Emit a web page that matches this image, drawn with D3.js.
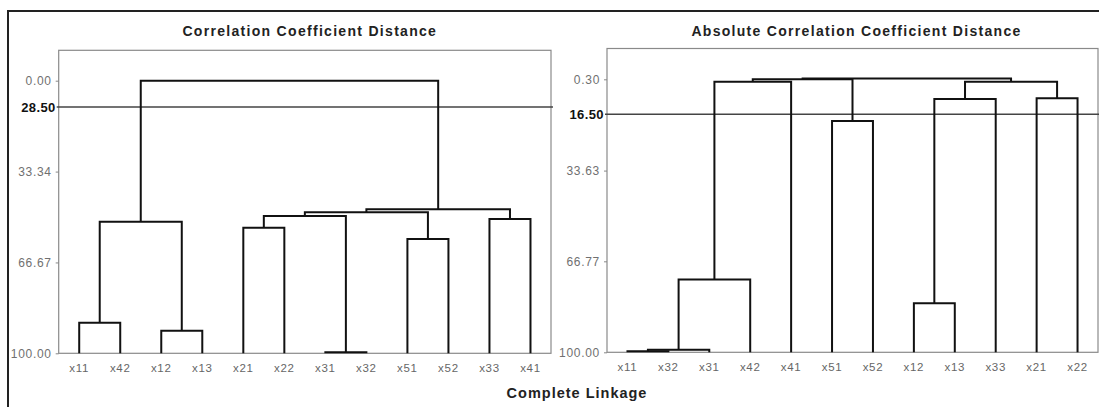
<!DOCTYPE html>
<html>
<head>
<meta charset="utf-8">
<script src="https://cdn.jsdelivr.net/npm/d3@7"></script>
<style>
  html, body { margin: 0; padding: 0; background: #fff; }
  svg { display: block; }
  text { font-family: "Liberation Sans", Arial, sans-serif; }
</style>
</head>
<body>
<svg id="chart" width="1099" height="407"></svg>
<script>
// ---------- DATA ----------
const overallTitle = "Complete Linkage";

const leftTitle = "Correlation Coefficient Distance";
const leftLeaves = ["x11","x42","x12","x13","x21","x22","x31","x32","x51","x52","x33","x41"];
// merges: [childA, childB, level]; children are leaf names or "m<i>"
const leftMerges = [
  ["x31","x32", 99.6],
  ["x11","x42", 88.8],
  ["x12","x13", 91.7],
  ["x51","x52", 58.1],
  ["x21","x22", 53.9],
  ["m1","m2",   51.7],
  ["x33","x41", 50.7],
  ["m4","m0",   49.6],
  ["m7","m3",   48.3],
  ["m8","m6",   47.2],
  ["m5","m9",   0.0]
];
const leftTickValues = [0, 33.34, 66.67, 100];
const leftTickLabels = ["0.00", "33.34", "66.67", "100.00"];
const leftCutLevel = 9.65;
const leftCutLabel = "28.50";

const rightTitle = "Absolute Correlation Coefficient Distance";
const rightLeaves = ["x11","x32","x31","x42","x41","x51","x52","x12","x13","x33","x21","x22"];
const rightMerges = [
  ["x11","x32", 99.6],
  ["m0","x31",  99.05],
  ["x12","x13", 82.1],
  ["m1","x42",  73.4],
  ["x51","x52", 15.5],
  ["m2","x33",  7.5],
  ["x21","x22", 7.2],
  ["m3","x41",  1.2],
  ["m5","m6",   1.2],
  ["m7","m4",   0.3],
  ["m9","m8",   0.0]
];
const rightTickValues = [0.30, 33.63, 66.77, 100];
const rightTickLabels = ["0.30", "33.63", "66.77", "100.00"];
const rightCutLevel = 13.1;
const rightCutLabel = "16.50";

// ---------- DRAW ----------
const svg = d3.select("#chart");

// outer frame
svg.append("rect")
  .attr("x", 8).attr("y", 11)
  .attr("width", 1100).attr("height", 420)
  .attr("fill", "#fff")
  .attr("stroke", "#222").attr("stroke-width", 2);

function drawPanel(cfg) {
  const g = svg.append("g");
  const x = d3.scaleBand().domain(cfg.leaves).range([cfg.left, cfg.right]).padding(0);
  const y = d3.scaleLinear().domain([0, 100]).range([cfg.y0, cfg.y100]);

  // plot frame
  g.append("rect")
    .attr("x", cfg.left).attr("y", cfg.top)
    .attr("width", cfg.right - cfg.left).attr("height", y(100) - cfg.top)
    .attr("fill", "none").attr("stroke", "#8a8a8a").attr("stroke-width", 1.2);

  // title
  g.append("text")
    .attr("x", (cfg.left + cfg.right) / 2 + cfg.titleDx).attr("y", 36)
    .attr("text-anchor", "middle")
    .attr("font-size", 14).attr("font-weight", "bold")
    .attr("letter-spacing", 1.3)
    .attr("fill", "#222")
    .text(cfg.title);

  // y axis
  const axis = d3.axisLeft(y)
    .tickValues(cfg.tickValues)
    .tickFormat((d, i) => cfg.tickLabels[i])
    .tickSize(3).tickPadding(4);
  const ag = g.append("g").attr("transform", `translate(${cfg.left},0)`).call(axis);
  ag.select(".domain").remove();
  ag.selectAll(".tick line").attr("stroke", "#888");
  ag.selectAll(".tick text")
    .attr("font-family", "Liberation Sans, Arial, sans-serif")
    .attr("font-size", 12).attr("letter-spacing", 0.7)
    .attr("fill", "#707070");

  // cut line
  g.append("line")
    .attr("x1", cfg.left - 2).attr("x2", cfg.right + 2)
    .attr("y1", y(cfg.cutLevel)).attr("y2", y(cfg.cutLevel))
    .attr("stroke", "#444").attr("stroke-width", 1.5);
  g.append("text")
    .attr("x", cfg.left - 3).attr("y", y(cfg.cutLevel))
    .attr("dy", "0.36em")
    .attr("text-anchor", "end")
    .attr("font-size", 13).attr("font-weight", "bold")
    .attr("letter-spacing", 0.4)
    .attr("fill", "#111")
    .text(cfg.cutLabel);

  // leaf labels
  g.selectAll("text.leaf").data(cfg.leaves).enter().append("text")
    .attr("class", "leaf")
    .attr("x", d => x(d) + x.bandwidth() / 2)
    .attr("y", y(100) + 18.5)
    .attr("text-anchor", "middle")
    .attr("font-size", 11.5).attr("letter-spacing", 0.7)
    .attr("fill", "#666")
    .text(d => d);

  // dendrogram
  const nodes = {};
  cfg.leaves.forEach(l => { nodes[l] = { cx: x(l) + x.bandwidth() / 2, h: 100 }; });
  const paths = [];
  cfg.merges.forEach((m, i) => {
    const a = nodes[m[0]], b = nodes[m[1]], h = m[2];
    paths.push(`M${a.cx},${y(a.h)}V${y(h)}H${b.cx}V${y(b.h)}`);
    nodes["m" + i] = { cx: (a.cx + b.cx) / 2, h: h };
  });
  g.selectAll("path.link").data(paths).enter().append("path")
    .attr("class", "link")
    .attr("d", d => d)
    .attr("fill", "none")
    .attr("stroke", "#111").attr("stroke-width", 2);
}

drawPanel({
  title: leftTitle, titleDx: 5, leaves: leftLeaves, merges: leftMerges,
  tickValues: leftTickValues, tickLabels: leftTickLabels,
  cutLevel: leftCutLevel, cutLabel: leftCutLabel,
  left: 58.7, right: 551, top: 50.3, y0: 80.7, y100: 353.3
});
drawPanel({
  title: rightTitle, titleDx: 4, leaves: rightLeaves, merges: rightMerges,
  tickValues: rightTickValues, tickLabels: rightTickLabels,
  cutLevel: rightCutLevel, cutLabel: rightCutLabel,
  left: 607, right: 1098, top: 48.5, y0: 78.5, y100: 352.3
});

svg.append("text")
  .attr("x", 577).attr("y", 398)
  .attr("text-anchor", "middle")
  .attr("font-size", 14.5).attr("font-weight", "bold")
  .attr("letter-spacing", 1.0)
  .attr("fill", "#222")
  .text(overallTitle);
</script>
</body>
</html>
